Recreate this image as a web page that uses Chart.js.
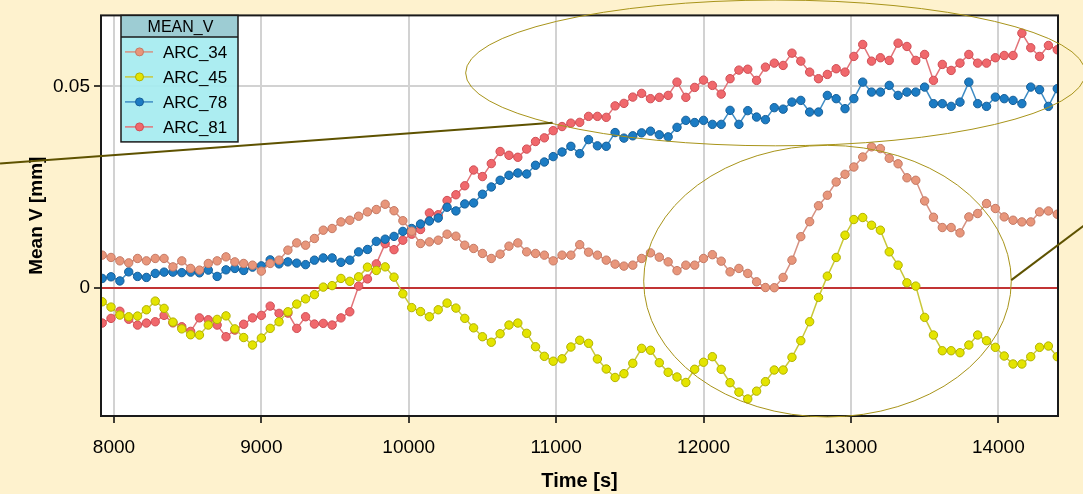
<!DOCTYPE html>
<html>
<head>
<meta charset="utf-8">
<script src="https://cdn.jsdelivr.net/npm/chart.js@4"></script>
<style>
  html, body { margin: 0; padding: 0; background: #fef2ce; }
  #wrap { width: 1083px; height: 494px; }
</style>
</head>
<body>
<div id="wrap"><canvas id="chart" width="1083" height="494"></canvas></div>
<script>
// Mean V of four arcs over time, one sample a minute

const times = [
  7920, 7980, 8040, 8100, 8160, 8220, 8280, 8340, 8400, 8460,
  8520, 8580, 8640, 8700, 8760, 8820, 8880, 8940, 9000, 9060,
  9120, 9180, 9240, 9300, 9360, 9420, 9480, 9540, 9600, 9660,
  9720, 9780, 9840, 9900, 9960, 10020, 10080, 10140, 10200, 10260,
  10320, 10380, 10440, 10500, 10560, 10620, 10680, 10740, 10800, 10860,
  10920, 10980, 11040, 11100, 11160, 11220, 11280, 11340, 11400, 11460,
  11520, 11580, 11640, 11700, 11760, 11820, 11880, 11940, 12000, 12060,
  12120, 12180, 12240, 12300, 12360, 12420, 12480, 12540, 12600, 12660,
  12720, 12780, 12840, 12900, 12960, 13020, 13080, 13140, 13200, 13260,
  13320, 13380, 13440, 13500, 13560, 13620, 13680, 13740, 13800, 13860,
  13920, 13980, 14040, 14100, 14160, 14220, 14280, 14340, 14400
];

const arc34 = [
  0.00817, 0.00760, 0.00676, 0.00626, 0.00735, 0.00676, 0.00735, 0.00735, 0.00527, 0.00676,
  0.00488, 0.00446, 0.00611, 0.00676, 0.00775, 0.00651, 0.00611, 0.00569, 0.00421, 0.00611,
  0.00693, 0.00941, 0.01121, 0.01064, 0.01230, 0.01436, 0.01478, 0.01641, 0.01683, 0.01782,
  0.01889, 0.01948, 0.02079, 0.01918, 0.01671, 0.01411, 0.01106, 0.01146, 0.01188, 0.01337,
  0.01287, 0.01064, 0.00983, 0.00859, 0.00735, 0.00842, 0.01040, 0.01121, 0.00899, 0.00859,
  0.00817, 0.00676, 0.00817, 0.00817, 0.01077, 0.00891, 0.00817, 0.00693, 0.00594, 0.00545,
  0.00569, 0.00735, 0.00874, 0.00767, 0.00651, 0.00433, 0.00569, 0.00569, 0.00735, 0.00829,
  0.00668, 0.00403, 0.00488, 0.00364, 0.00156, 0.00015, 0.00010, 0.00265, 0.00693, 0.01275,
  0.01646, 0.02042, 0.02302, 0.02631, 0.02822, 0.03002, 0.03250, 0.03502, 0.03458, 0.03218,
  0.03082, 0.02735, 0.02673, 0.02161, 0.01757, 0.01502, 0.01502, 0.01369, 0.01765, 0.01849,
  0.02096, 0.01973, 0.01765, 0.01683, 0.01641, 0.01641, 0.01889, 0.01913, 0.01832
];

const arc45 = [
  -0.00339, -0.00470, -0.00668, -0.00710, -0.00693, -0.00537, -0.00322, -0.00502, -0.00842, -0.01010,
  -0.01156, -0.01163, -0.00916, -0.00775, -0.00688, -0.01010, -0.01225, -0.01411, -0.01238, -0.00998,
  -0.00834, -0.00587, -0.00396, -0.00267, -0.00161, 0.00025, 0.00062, 0.00240, 0.00168, 0.00280,
  0.00520, 0.00438, 0.00527, 0.00272, -0.00141, -0.00483, -0.00582, -0.00710, -0.00537, -0.00371,
  -0.00495, -0.00750, -0.00985, -0.01205, -0.01342, -0.01131, -0.00916, -0.00866, -0.01121, -0.01453,
  -0.01691, -0.01812, -0.01752, -0.01460, -0.01292, -0.01369, -0.01757, -0.02005, -0.02215, -0.02121,
  -0.01864, -0.01493, -0.01540, -0.01849, -0.02087, -0.02203, -0.02339, -0.02012, -0.01837, -0.01700,
  -0.02012, -0.02344, -0.02579, -0.02748, -0.02554, -0.02319, -0.02030, -0.02030, -0.01715, -0.01304,
  -0.00834, -0.00230, 0.00297, 0.00760, 0.01312, 0.01700, 0.01750, 0.01559, 0.01436, 0.00899,
  0.00569, 0.00131, 0.00050, -0.00725, -0.01163, -0.01552, -0.01552, -0.01601, -0.01411, -0.01163,
  -0.01304, -0.01468, -0.01683, -0.01881, -0.01881, -0.01700, -0.01468, -0.01436, -0.01700
];

const arc78 = [
  0.00240, 0.00280, 0.00178, 0.00403, 0.00290, 0.00265, 0.00364, 0.00396, 0.00396, 0.00384,
  0.00396, 0.00379, 0.00446, 0.00290, 0.00453, 0.00488, 0.00438, 0.00520, 0.00552, 0.00700,
  0.00601, 0.00651, 0.00619, 0.00582, 0.00693, 0.00748, 0.00748, 0.00639, 0.00693, 0.00899,
  0.00958, 0.01158, 0.01213, 0.01282, 0.01406, 0.01478, 0.01589, 0.01663, 0.01738, 0.02005,
  0.01913, 0.02087, 0.02111, 0.02327, 0.02507, 0.02673, 0.02797, 0.02854, 0.02829, 0.03045,
  0.03126, 0.03260, 0.03374, 0.03515, 0.03334, 0.03681, 0.03527, 0.03515, 0.03856, 0.03718,
  0.03775, 0.03849, 0.03891, 0.03800, 0.03750, 0.03985, 0.04158, 0.04104, 0.04158, 0.04059,
  0.04059, 0.04406, 0.04059, 0.04399, 0.04240, 0.04176, 0.04473, 0.04436, 0.04611, 0.04653,
  0.04364, 0.04364, 0.04777, 0.04696, 0.04448, 0.04696, 0.05106, 0.04859, 0.04859, 0.05025,
  0.04777, 0.04859, 0.04859, 0.04983, 0.04572, 0.04572, 0.04505, 0.04611, 0.05106, 0.04572,
  0.04505, 0.04735, 0.04696, 0.04653, 0.04572, 0.04983, 0.04918, 0.04505, 0.04943
];

const arc81 = [
  -0.00866, -0.00750, -0.00574, -0.00772, -0.00916, -0.00866, -0.00834, -0.00676, -0.00861, -0.00958,
  -0.01072, -0.00738, -0.00785, -0.00916, -0.01205, -0.01040, -0.00896, -0.00738, -0.00676, -0.00446,
  -0.00626, -0.00619, -0.00998, -0.00710, -0.00891, -0.00874, -0.00916, -0.00738, -0.00587, 0.00050,
  0.00228, 0.00601, 0.01101, 0.00953, 0.01188, 0.01337, 0.01453, 0.01864, 0.01819, 0.02171,
  0.02314, 0.02537, 0.02928, 0.02765, 0.03087, 0.03386, 0.03292, 0.03243, 0.03446, 0.03634,
  0.03725, 0.03903, 0.04005, 0.04089, 0.04109, 0.04257, 0.04257, 0.04233, 0.04517, 0.04579,
  0.04735, 0.04827, 0.04696, 0.04728, 0.04777, 0.05106, 0.04728, 0.04975, 0.05156, 0.05025,
  0.04809, 0.05191, 0.05404, 0.05426, 0.05149, 0.05478, 0.05577, 0.05520, 0.05824, 0.05626,
  0.05354, 0.05191, 0.05297, 0.05438, 0.05354, 0.05743, 0.06040, 0.05626, 0.05710, 0.05644,
  0.06072, 0.05990, 0.05644, 0.05792, 0.05149, 0.05545, 0.05396, 0.05577, 0.05792, 0.05577,
  0.05577, 0.05710, 0.05767, 0.05767, 0.06319, 0.05958, 0.05743, 0.06015, 0.05908
];

const seriesNames = ['ARC_34', 'ARC_45', 'ARC_78', 'ARC_81'];
const xTicks = [8000, 9000, 10000, 11000, 12000, 13000, 14000];
const yTicks = [0, 0.05];

// colours: line, point fill, point edge
const styles = [
  { line: '#d69282', fill: '#e8967b', edge: '#c57a65' },
  { line: '#c9c83a', fill: '#e4e400', edge: '#b2b200' },
  { line: '#3f8cc4', fill: '#1c7cc4', edge: '#155f99' },
  { line: '#e27479', fill: '#f0686c', edge: '#d04e55' }
];

// annotation ellipses and callout lines, in data units
const ellipses = [
  { t: 12488, v: 0.05334, rt: 2102, rv: 0.01807 },
  { t: 12841, v: 0.00173, rt: 1247, rv: 0.03366 }
];
const callouts = [
  { t1: 7227, v1: 0.03087, t2: 10976, v2: 0.04097 },
  { t1: 14088, v1: 0.00198, t2: 14620, v2: 0.01660 }
];

const FONT = "'Liberation Sans', Arial, sans-serif";

function pairs(vals) {
  return vals.map((v, i) => ({ x: times[i], y: v }));
}

const datasets = [arc34, arc45, arc78, arc81].map((vals, i) => ({
  label: seriesNames[i],
  data: pairs(vals),
  borderColor: styles[i].line,
  borderWidth: 1.5,
  backgroundColor: styles[i].fill,
  pointBackgroundColor: styles[i].fill,
  pointBorderColor: styles[i].edge,
  pointBorderWidth: 1,
  pointRadius: 4.2,
  tension: 0
}));

const decor = {
  id: 'decor',
  beforeDraw(chart) {
    const { ctx, chartArea: a } = chart;
    ctx.save();
    ctx.fillStyle = '#fef2ce';
    ctx.fillRect(0, 0, chart.width, chart.height);
    ctx.fillStyle = '#ffffff';
    ctx.fillRect(a.left, a.top, a.right - a.left, a.bottom - a.top);
    ctx.restore();
  },
  afterDraw(chart) {
    const { ctx, chartArea: a } = chart;
    const xs = chart.scales.x, ys = chart.scales.y;
    ctx.save();

    // plot frame
    ctx.strokeStyle = '#1a1a1a';
    ctx.lineWidth = 2;
    ctx.strokeRect(a.left, a.top, a.right - a.left, a.bottom - a.top);

    // annotation ellipses
    ctx.strokeStyle = '#a8941a';
    ctx.lineWidth = 1;
    ellipses.forEach(e => {
      const cx = xs.getPixelForValue(e.t), cy = ys.getPixelForValue(e.v);
      const rx = Math.abs(xs.getPixelForValue(e.t + e.rt) - cx);
      const ry = Math.abs(ys.getPixelForValue(e.v + e.rv) - cy);
      ctx.beginPath();
      ctx.ellipse(cx, cy, rx, ry, 0, 0, Math.PI * 2);
      ctx.stroke();
    });

    // callout lines
    ctx.strokeStyle = '#5e5200';
    ctx.lineWidth = 2;
    callouts.forEach(c => {
      ctx.beginPath();
      ctx.moveTo(xs.getPixelForValue(c.t1), ys.getPixelForValue(c.v1));
      ctx.lineTo(xs.getPixelForValue(c.t2), ys.getPixelForValue(c.v2));
      ctx.stroke();
    });

    // legend box
    const lx = a.left + 20, ly = a.top, lw = 117, th = 21.5, lh = 126.5;
    ctx.fillStyle = 'rgba(166, 236, 240, 0.93)';
    ctx.fillRect(lx, ly, lw, lh);
    ctx.fillStyle = '#9dccd3';
    ctx.fillRect(lx, ly, lw, th);
    ctx.strokeStyle = '#1a1a1a';
    ctx.lineWidth = 1.5;
    ctx.strokeRect(lx, ly, lw, lh);
    ctx.beginPath();
    ctx.moveTo(lx, ly + th);
    ctx.lineTo(lx + lw, ly + th);
    ctx.stroke();

    ctx.fillStyle = '#000';
    ctx.font = '16px ' + FONT;
    ctx.textAlign = 'center';
    ctx.textBaseline = 'middle';
    ctx.fillText('MEAN_V', lx + lw / 2 + 1, ly + th / 2 + 1);

    ctx.font = '17px ' + FONT;
    ctx.textAlign = 'left';
    chart.data.datasets.forEach((ds, i) => {
      const cy = ly + th + 15 + i * 25;
      ctx.strokeStyle = ds.borderColor;
      ctx.lineWidth = 1.5;
      ctx.beginPath();
      ctx.moveTo(lx + 4, cy);
      ctx.lineTo(lx + 32, cy);
      ctx.stroke();
      ctx.fillStyle = ds.pointBackgroundColor;
      ctx.strokeStyle = ds.pointBorderColor;
      ctx.lineWidth = 1;
      ctx.beginPath();
      ctx.arc(lx + 18.5, cy, 4, 0, Math.PI * 2);
      ctx.fill();
      ctx.stroke();
      ctx.fillStyle = '#000';
      ctx.fillText(ds.label, lx + 42, cy + 1);
    });

    ctx.restore();
  }
};

new Chart(document.getElementById('chart'), {
  type: 'line',
  data: { datasets },
  options: {
    responsive: false,
    devicePixelRatio: 1,
    animation: false,
    events: [],
    layout: { padding: { top: 15, right: 25, left: 0, bottom: 0 } },
    plugins: {
      legend: { display: false },
      tooltip: { enabled: false }
    },
    scales: {
      x: {
        type: 'linear',
        min: 7912,
        max: 14405,
        afterBuildTicks: s => { s.ticks = xTicks.map(v => ({ value: v })); },
        afterFit: s => { s.height = 78; },
        border: { display: false },
        grid: {
          color: '#d2d2d2',
          lineWidth: 2,
          drawTicks: true,
          tickLength: 7,
          tickColor: '#000',
          tickWidth: 1.5
        },
        ticks: {
          color: '#000',
          font: { family: FONT, size: 19 },
          padding: 13,
          maxRotation: 0,
          autoSkip: false,
          callback: v => String(v)
        },
        title: {
          display: true,
          text: 'Time [s]',
          color: '#000',
          font: { family: FONT, size: 20, weight: 'bold' },
          padding: { top: 0, bottom: 1 }
        }
      },
      y: {
        min: -0.0317,
        max: 0.0676,
        afterBuildTicks: s => { s.ticks = yTicks.map(v => ({ value: v })); },
        afterFit: s => { s.width = 101; },
        border: { display: false },
        grid: {
          color: c => (c.tick && c.tick.value === 0) ? '#c23434' : '#d2d2d2',
          lineWidth: 2,
          drawTicks: true,
          tickLength: 7,
          tickColor: '#000',
          tickWidth: 1.5
        },
        ticks: {
          color: '#000',
          font: { family: FONT, size: 19 },
          padding: 4,
          callback: v => (v === 0 ? '0' : String(v))
        },
        title: {
          display: true,
          text: 'Mean V [mm]',
          color: '#000',
          font: { family: FONT, size: 19, weight: 'bold' },
          padding: { top: 25, bottom: 0 }
        }
      }
    }
  },
  plugins: [decor]
});
</script>
</body>
</html>
